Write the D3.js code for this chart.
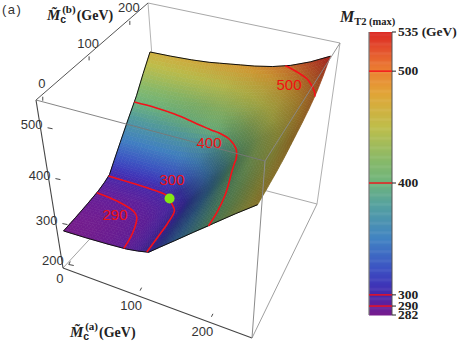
<!DOCTYPE html>
<html lang="en">
<head>
<meta charset="UTF-8">
<title>MT2 max surface</title>
<script src="https://d3js.org/d3.v7.min.js"></script>
<style>
    html, body { margin: 0; padding: 0; background: white; }
    svg { display: block; }
    .tick { font: 13px "Liberation Sans", sans-serif; fill: #333; }
    .axisname { font: bold 14px "Liberation Serif", serif; fill: #222; }
    .legendtick { font: bold 13.5px "Liberation Serif", serif; fill: #222; }
    .contourlabel { font: 15px "Liberation Sans", sans-serif; fill: #f01010; }
</style>
</head>
<body>
<svg></svg>
<script>
// grid of masses, same for both axes
var masses = [0, 30, 60, 85, 100, 115, 130, 150, 175, 200, 225, 250];
// lower triangle of the symmetric MT2(max) table, one row per mass
var mt2Rows = [
    [282],
    [284, 284.5],
    [287, 287.5, 289],
    [290.5, 291, 292, 295],
    [295, 295.5, 296.5, 298, 301],
    [301, 301, 301, 301.5, 306, 323],
    [320, 320, 321, 323, 327, 335, 346],
    [345, 346, 347, 349, 352, 358, 365, 385],
    [377, 380, 385, 391, 395, 398, 401, 408, 428],
    [408, 408, 411, 416, 420, 424, 428, 434, 445, 458],
    [438, 438, 440, 442, 444, 446, 449, 455, 463, 475, 493],
    [467, 468, 470, 473, 476, 479, 482, 486, 493, 503, 517, 535]
];
var contourLevels = [290, 300, 400, 500];
var contourLabels = ["290", "300", "400", "500"];
var massTicks = [0, 100, 200];
var heightTicks = [200, 300, 400, 500];
var legendTicks = [282, 290, 300, 400, 500, 535];
var colorValues = [282, 290, 300, 310, 325, 350, 380, 400, 420, 450, 480, 500, 520, 535];
var colorStops = ["#781c8c", "#641e9b", "#4628aa", "#3e37b9", "#3c55c3", "#4182c3", "#55a0a0", "#6eb47d", "#87b969", "#bebe4b", "#e1a537", "#eb8232", "#e4502d", "#dc2823"];
// kink point of the surface (green dot)
var dotPoint = [93, 102, 302];

var svgWidth = 473;
var svgHeight = 343;

var svg = d3.select("svg").attr("width", svgWidth).attr("height", svgHeight);

// the box corners in pixels, named by a/b/z low or high
var c000 = [63, 268], c100 = [252, 338], c010 = [160, 163], c110 = [317, 204];
var c001 = [36, 100], c101 = [265, 161], c011 = [148, 3], c111 = [340, 43];

// axis positions inside the box, not quite even because of the perspective
var ta = d3.scaleLinear().domain([0, 100, 200, 250]).range([0.01, 0.39, 0.77, 0.97]);
var tb = d3.scaleLinear().domain([0, 100, 200, 250]).range([0.04, 0.455, 0.82, 0.97]);
var tz = d3.scaleLinear().domain([200, 300, 400, 500, 555]).range([0, 0.244, 0.512, 0.815, 1]);

function mix(p, q, t) {
    return [p[0] + (q[0] - p[0]) * t, p[1] + (q[1] - p[1]) * t];
}

function project(a, b, z) {
    var u = ta(a), v = tb(b), w = tz(z);
    var low = mix(mix(c000, c100, u), mix(c010, c110, u), v);
    var high = mix(mix(c001, c101, u), mix(c011, c111, u), v);
    return mix(low, high, w);
}

var color = d3.scaleLinear().domain(colorValues).range(colorStops).interpolate(d3.interpolateRgb).clamp(true);

function mt2(i, j) {
    return i >= j ? mt2Rows[i][j] : mt2Rows[j][i];
}

function edge(p, q, stroke, width) {
    svg.append("line")
        .attr("x1", p[0]).attr("y1", p[1])
        .attr("x2", q[0]).attr("y2", q[1])
        .attr("stroke", stroke)
        .attr("stroke-width", width);
}

// Back of the box
edge(c011, c010, "#b4b4b4", 1);
edge(c000, c010, "#8c8c8c", 0.8);
edge(c010, c110, "#aaaaaa", 1);
edge(c110, c111, "#b0b0b0", 1);
edge(c011, c111, "#a8a8a8", 1);
edge(c001, c011, "#555555", 1);
edge(c100, c110, "#a0a0a0", 1);

// Surface: every grid cell cut in small quads, coloured by height and darkened
// where it climbs along a
var n = masses.length;
var shade = [];
for (var i = 0; i < n; i++) {
    shade.push([]);
    for (var j = 0; j < n; j++) {
        var i0 = Math.max(i - 1, 0), i1 = Math.min(i + 1, n - 1);
        var slope = (tz(mt2(i1, j)) - tz(mt2(i0, j))) / (ta(masses[i1]) - ta(masses[i0]));
        shade[i].push(1 - 0.42 * Math.max(0, Math.min(slope, 1)));
    }
}

function blend(grid, i, j, s, t) {
    return (1 - s) * (1 - t) * grid(i, j) + s * (1 - t) * grid(i + 1, j) +
        (1 - s) * t * grid(i, j + 1) + s * t * grid(i + 1, j + 1);
}

var sub = 6;
var quads = [];
function surfacePoint(i, j, s, t) {
    var a = masses[i] + (masses[i + 1] - masses[i]) * s;
    var b = masses[j] + (masses[j + 1] - masses[j]) * t;
    return project(a, b, blend(mt2, i, j, s, t));
}
for (var j = n - 2; j >= 0; j--) {
    for (var si = sub - 1; si >= 0; si--) {
        for (var i = 0; i < n - 1; i++) {
            for (var sk = 0; sk < sub; sk++) {
                var s0 = sk / sub, s1 = (sk + 1) / sub, t0 = si / sub, t1 = (si + 1) / sub;
                var sm = (s0 + s1) / 2, tm = (t0 + t1) / 2;
                var base = d3.rgb(color(blend(mt2, i, j, sm, tm)));
                var f = blend(function(x, y) { return shade[x][y]; }, i, j, sm, tm);
                quads.push({
                    pts: [surfacePoint(i, j, s0, t0), surfacePoint(i, j, s1, t0), surfacePoint(i, j, s1, t1), surfacePoint(i, j, s0, t1)],
                    fill: d3.rgb(base.r * f, base.g * f, base.b * f).formatHex()
                });
            }
        }
    }
}
svg.append("g").selectAll("polygon")
    .data(quads)
    .enter()
    .append("polygon")
        .attr("points", function(d) { return d.pts.join(" "); })
        .attr("fill", function(d) { return d.fill; })
        .attr("stroke", function(d) { return d.fill; })
        .attr("stroke-width", 0.6);

// Surface outline on three sides
var outline = d3.line();
var lowEdge = masses.map(function(m, k) { return project(m, 0, mt2(k, 0)); });
var leftEdge = masses.map(function(m, k) { return project(0, m, mt2(0, k)); });
var topEdge = masses.map(function(m, k) { return project(m, 250, mt2(k, n - 1)); });
[lowEdge, leftEdge, topEdge].forEach(function(pts) {
    svg.append("path").attr("d", outline(pts)).attr("fill", "none").attr("stroke", "#111").attr("stroke-width", 1);
});

// Contours
var flat = [];
for (var j = 0; j < n; j++) {
    for (var i = 0; i < n; i++) flat.push(mt2(i, j));
}
var indexToMass = d3.scaleLinear().domain(d3.range(n)).range(masses);
var contours = d3.contours().size([n, n]).thresholds(contourLevels)(flat);
var contourLine = d3.line()
    .defined(function(d) { return d[0] >= 0.5 && d[0] <= n - 0.5 && d[1] >= 0.5 && d[1] <= n - 0.5; })
    .x(function(d) { return d.p[0]; })
    .y(function(d) { return d.p[1]; })
    .curve(d3.curveCatmullRom);
contours.forEach(function(c) {
    c.coordinates.forEach(function(poly) {
        poly.forEach(function(ring) {
            var pts = ring.map(function(d) {
                var q = [d[0], d[1]];
                q.p = project(indexToMass(Math.min(Math.max(d[0] - 0.5, 0), n - 1)), indexToMass(Math.min(Math.max(d[1] - 0.5, 0), n - 1)), c.value);
                return q;
            });
            svg.append("path")
                .attr("d", contourLine(pts))
                .attr("fill", "none")
                .attr("stroke", "#f5101a")
                .attr("stroke-width", 1.6);
        });
    });
});

// Contour labels
var contourLabelAt = [[115, 220], [172, 185], [209, 148], [289, 90]];
svg.append("g").selectAll("text")
    .data(contourLabels)
    .enter()
    .append("text")
        .attr("class", "contourlabel")
        .attr("text-anchor", "middle")
        .attr("x", function(d, k) { return contourLabelAt[k][0]; })
        .attr("y", function(d, k) { return contourLabelAt[k][1]; })
        .text(function(d) { return d; });

// Green dot
var dot = project(dotPoint[0], dotPoint[1], dotPoint[2]);
svg.append("circle")
    .attr("cx", dot[0]).attr("cy", dot[1]).attr("r", 5)
    .attr("fill", "#84e614");

// Front of the box
edge(c001, c000, "#444444", 1.1);
edge(c000, c100, "#444444", 1.1);
edge(c001, c101, "#777777", 0.9);
edge(c101, c111, "#8a8a8a", 0.9);
edge(c101, c100, "#8c8c8c", 1);

// Ticks and tick labels
function axisTicks(values, at, tickDx, tickDy, labelDx, labelDy, anchor) {
    values.forEach(function(v) {
        var p = at(v);
        edge(p, [p[0] + tickDx, p[1] + tickDy], "#333", 0.9);
        svg.append("text")
            .attr("class", "tick")
            .attr("text-anchor", anchor)
            .attr("x", p[0] + labelDx)
            .attr("y", p[1] + labelDy)
            .text(v);
    });
}
axisTicks(massTicks, function(v) { return project(v, 0, 200); }, 1.5, -3, -9, 19, "middle");
axisTicks(massTicks, function(v) { return project(0, v, 555); }, 0, 4, -1, -8.5, "middle");
axisTicks(heightTicks, function(v) { return project(0, 0, v); }, 5, 1, -5, 1, "end");

// Axis names
function axisName(x, y, sup) {
    var t = svg.append("text").attr("class", "axisname").attr("x", x).attr("y", y);
    t.append("tspan").attr("font-style", "italic").attr("font-size", 15).text("M\u0303");
    t.append("tspan").attr("dy", 3).attr("font-size", 10.5).attr("font-family", "Liberation Sans").text("c");
    t.append("tspan").attr("dy", -10).attr("dx", -4).attr("font-size", 11).text(sup);
    t.append("tspan").attr("dy", 7).attr("dx", 1).text("(GeV)");
}
axisName(47, 20, "(b)");
axisName(70, 337, "(a)");

svg.append("text")
    .attr("x", 2).attr("y", 14)
    .attr("letter-spacing", 1.5)
    .attr("fill", "#333")
    .attr("font-family", "Liberation Sans")
    .attr("font-size", 13)
    .text("(a)");

// Legend
var legendY = d3.scaleLinear().domain([282, 535]).range([315, 32]);
var legendCells = d3.range(282, 535, 1);
svg.append("g").selectAll("rect")
    .data(legendCells)
    .enter()
    .append("rect")
        .attr("x", 369)
        .attr("width", 23)
        .attr("y", function(d) { return legendY(d + 1); })
        .attr("height", function(d) { return legendY(d) - legendY(d + 1) + 0.5; })
        .attr("fill", function(d) { return color(d + 0.5); });
edge([369, 32], [369, 315], "#777", 1.2);
edge([392, 32], [392, 315], "#555", 1);
contourLevels.forEach(function(v) {
    edge([369, legendY(v)], [392, legendY(v)], "#f5101a", 1.4);
});
legendTicks.forEach(function(v) {
    var y = legendY(v);
    edge([392, y], [396, y], "#222", 1);
    svg.append("text")
        .attr("class", "legendtick")
        .attr("x", 398)
        .attr("y", y + 4)
        .text(v === 535 ? "535 (GeV)" : v);
});
var legendTitle = svg.append("text").attr("class", "axisname").attr("x", 340).attr("y", 22);
legendTitle.append("tspan").attr("font-style", "italic").attr("font-size", 16).text("M");
legendTitle.append("tspan").attr("dy", 3).attr("font-size", 10.5).text("T2 (max)");
</script>
</body>
</html>
